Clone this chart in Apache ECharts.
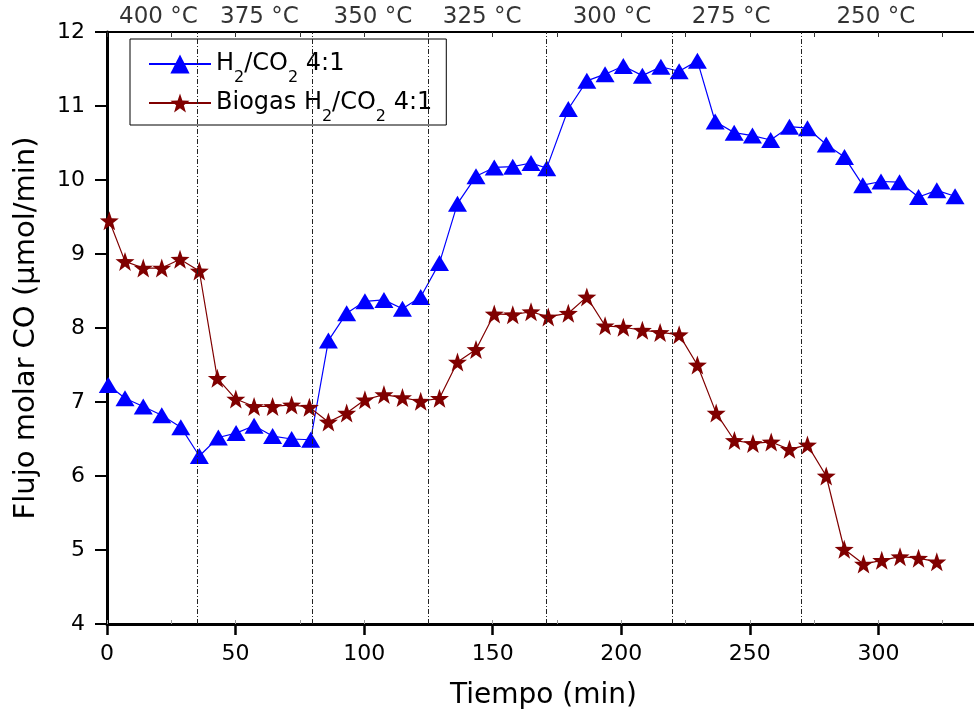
<!DOCTYPE html>
<html>
<head>
<meta charset="utf-8">
<script src="https://cdn.jsdelivr.net/npm/echarts@6/dist/echarts.min.js"></script>
<style>
html,body{margin:0;padding:0;background:#fff;}
#chart{width:974px;height:720px;}
</style>
</head>
<body>
<div id="chart"></div>
<script>
// ---- data ----
const seriesNames = ['H2/CO2 4:1', 'Biogas H2/CO2 4:1'];

const blueTime = [0.5, 7, 14.1, 21.3, 28.7, 35.9, 43.3, 50.2, 57.2, 64.4, 71.8, 79.2,
  86.1, 93.2, 100.3, 107.7, 114.9, 122, 129.3, 136.3, 143.5, 150.6, 157.8, 164.9, 171,
  179.4, 186.6, 193.7, 200.8, 208.2, 215.4, 222.5, 229.6, 236.5, 243.9, 251, 258.1,
  265.4, 272.4, 279.7, 286.8, 293.9, 301, 308.2, 315.6, 322.7, 329.8];
const blueFlow = [7.23, 7.05, 6.94, 6.82, 6.66, 6.27, 6.52, 6.58, 6.68, 6.54, 6.50, 6.49,
  7.83, 8.20, 8.36, 8.38, 8.26, 8.42, 8.88, 9.68, 10.05, 10.17, 10.18, 10.23, 10.16,
  10.96, 11.34, 11.43, 11.54, 11.41, 11.53, 11.47, 11.61, 10.79, 10.64, 10.60, 10.54,
  10.72, 10.70, 10.48, 10.31, 9.93, 9.98, 9.97, 9.77, 9.86, 9.78];

const redTime = [0.9, 7, 14.1, 21.3, 28.4, 35.9, 42.9, 50.1, 57.2, 64.4, 71.8, 78.7,
  86.1, 93.2, 100.3, 107.7, 114.9, 122, 129.3, 136.3, 143.5, 150.6, 157.8, 164.9, 171.6,
  179.4, 186.6, 193.7, 200.8, 208.2, 215.1, 222.5, 229.6, 236.9, 244, 251.2, 258.3,
  265.4, 272.4, 279.7, 286.7, 294.2, 301.3, 308.4, 315.6, 322.7];
const redFlow = [9.45, 8.90, 8.81, 8.81, 8.93, 8.77, 7.32, 7.04, 6.94, 6.94, 6.96, 6.93,
  6.73, 6.85, 7.03, 7.10, 7.06, 7.01, 7.05, 7.54, 7.71, 8.19, 8.18, 8.22, 8.15,
  8.20, 8.42, 8.03, 8.01, 7.97, 7.94, 7.91, 7.50, 6.85, 6.48, 6.44, 6.46,
  6.36, 6.42, 6.00, 5.01, 4.81, 4.86, 4.91, 4.89, 4.84];

// temperature step boundaries (min) and labels
const stepBounds = [35, 80, 125, 171, 220, 270];
const tempLabels = ['400 °C', '375 °C', '350 °C', '325 °C', '300 °C', '275 °C', '250 °C'];
const tempLabelTime = [20, 59.3, 103.4, 145.9, 196.4, 242.7, 299];
const tempLabelLevel = 12.2;

const xTicks = [0, 350, 50];   // min, max, interval
const yTicks = [4, 12, 1];

// ---- chart ----
const FONT = 'DejaVu Sans';
const starPath = 'path://M50,0 L61.76,33.82 L97.55,34.55 L69.02,56.18 L79.39,90.45 L50,70 L20.61,90.45 L30.98,56.18 L2.45,34.55 L38.24,33.82 Z';

const pair = (xs, ys) => xs.map((x, i) => [x, ys[i]]);

const chart = echarts.init(document.getElementById('chart'), null, {renderer: 'canvas'});

const option = {
  animation: false,
  backgroundColor: '#fff',
  grid: {left: 107, top: 32, width: 900, height: 592, containLabel: false, outerBoundsMode: 'none'},
  legend: {
    data: seriesNames,
    orient: 'vertical',
    left: 130,
    top: 39,
    padding: [13, 14, 0, 18],
    itemGap: 5,
    itemWidth: 62,
    itemHeight: 24,
    borderColor: '#000',
    borderWidth: 1,
    backgroundColor: '#fff',
    formatter: function (name) {
      return '{a|' + name.replace(/([HO])2/g, '$1}{s|2}{a|') + '}';
    },
    textStyle: {
      fontFamily: FONT,
      color: '#000',
      rich: {
        a: {fontFamily: FONT, fontSize: 24, color: '#000', lineHeight: 44, verticalAlign: 'middle'},
        s: {fontFamily: FONT, fontSize: 16, color: '#000', lineHeight: 14, verticalAlign: 'bottom'}
      }
    }
  },
  xAxis: [
    {
      type: 'value', position: 'bottom',
      min: xTicks[0], max: xTicks[1], interval: xTicks[2],
      name: 'Tiempo (min)', nameLocation: 'middle', nameGap: 58,
      nameTextStyle: {fontFamily: FONT, fontSize: 28, color: '#000', padding: [0, 27, 0, 0]},
      axisLine: {onZero: false, lineStyle: {color: '#000', width: 3}},
      axisTick: {length: 11, lineStyle: {color: '#000', width: 2.5}},
      axisLabel: {fontFamily: FONT, fontSize: 22, color: '#000', margin: 19},
      splitLine: {show: false}
    },
    {
      type: 'value', position: 'top',
      min: xTicks[0], max: xTicks[1], interval: xTicks[2] / 2,
      axisLine: {onZero: false, lineStyle: {color: '#000', width: 2}},
      axisTick: {inside: true, length: 5, lineStyle: {color: '#333', width: 1}},
      axisLabel: {show: false},
      splitLine: {show: false}
    },
    {
      type: 'value', position: 'bottom',
      min: xTicks[0], max: xTicks[1], interval: xTicks[2] / 2,
      axisLine: {show: false, onZero: false},
      axisTick: {inside: true, length: 4, lineStyle: {color: '#999', width: 1}},
      axisLabel: {show: false},
      splitLine: {show: false}
    }
  ],
  yAxis: {
    type: 'value',
    min: yTicks[0], max: yTicks[1], interval: yTicks[2],
    name: 'Flujo molar CO (μmol/min)', nameLocation: 'middle', nameGap: 66,
    nameTextStyle: {fontFamily: FONT, fontSize: 29, color: '#000'},
    axisLine: {show: true, onZero: false, lineStyle: {color: '#000', width: 3}},
    axisTick: {show: true, length: 12, lineStyle: {color: '#000', width: 2}},
    axisLabel: {fontFamily: FONT, fontSize: 22, color: '#000', margin: 22},
    splitLine: {show: false}
  },
  series: [
    {
      name: seriesNames[0],
      type: 'line',
      data: pair(blueTime, blueFlow),
      symbol: 'triangle',
      symbolSize: [19, 16],
      color: '#0000ff',
      lineStyle: {color: '#0000ff', width: 1.2},
      itemStyle: {color: '#0000ff'},
      z: 3
    },
    {
      name: seriesNames[1],
      type: 'line',
      data: pair(redTime, redFlow),
      symbol: starPath,
      symbolSize: 19,
      color: '#800000',
      lineStyle: {color: '#800000', width: 1.2},
      itemStyle: {color: '#800000'},
      z: 3
    },
    {
      name: 'temps',
      type: 'scatter',
      data: tempLabelTime.map((t, i) => ({value: [t, tempLabelLevel], name: tempLabels[i]})),
      symbolSize: 1,
      itemStyle: {color: 'rgba(0,0,0,0)'},
      clip: false,
      silent: true,
      z: 1,
      label: {
        show: true, position: 'inside',
        formatter: p => p.name,
        fontFamily: FONT, fontSize: 23, color: '#000'
      },
      markLine: {
        silent: true,
        symbol: ['none', 'none'],
        label: {show: false},
        lineStyle: {color: '#222', width: 1, type: [5, 2, 1, 2]},
        data: stepBounds.map(b => ({xAxis: b}))
      }
    }
  ]
};

chart.setOption(option);
</script>
</body>
</html>
